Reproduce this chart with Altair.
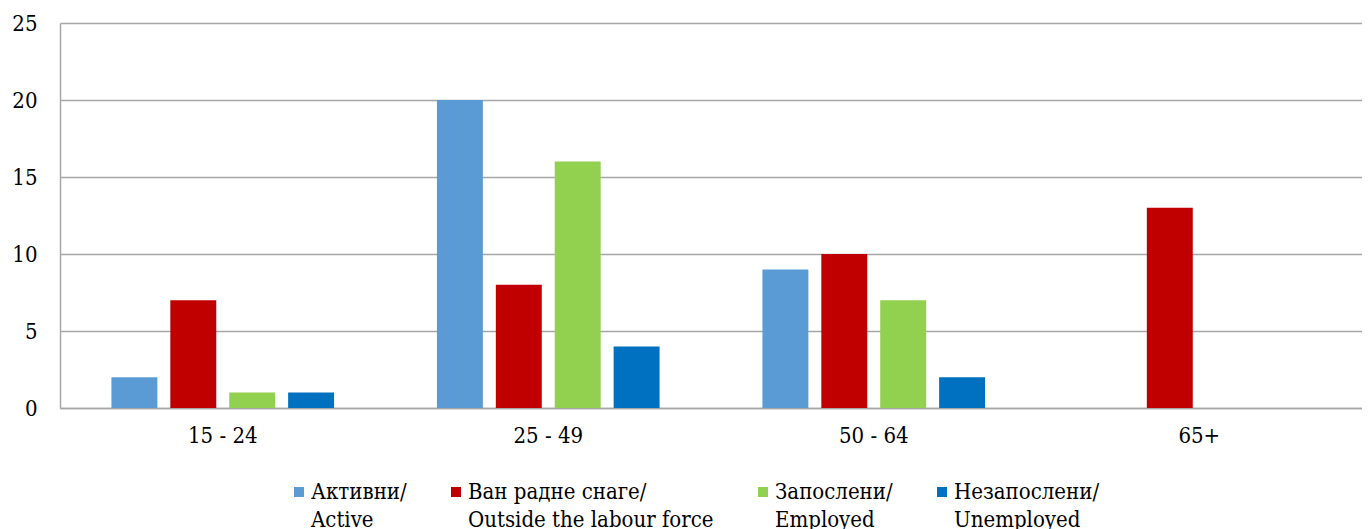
import altair as alt
import pandas as pd

ages = ["15 - 24", "25 - 49", "50 - 64", "65+"]
series = [
    "Активни/|Active",
    "Ван радне снаге/|Outside the labour force",
    "Запослени/|Employed",
    "Незапослени/|Unemployed",
]
colors = ["#5B9BD5", "#C00000", "#92D050", "#0070C0"]
active = [2, 20, 9, 0]
outside = [7, 8, 10, 13]
employed = [1, 16, 7, 0]
unemployed = [1, 4, 2, 0]
y_ticks = [0, 5, 10, 15, 20, 25]

rows = []
for s, vals in zip(series, [active, outside, employed, unemployed]):
    for a, v in zip(ages, vals):
        rows.append({"age": a, "series": s, "value": v})
df = pd.DataFrame(rows)

FONT = "DejaVu Serif Condensed, DejaVu Serif"
FS = 22
GRID = "#A6A6A6"

chart = alt.Chart(df).mark_bar().encode(
    x=alt.X("age:N", sort=ages,
            scale=alt.Scale(paddingInner=0, paddingOuter=0),
            axis=alt.Axis(title=None, labelAngle=0, ticks=False, domainColor=GRID,
                          domainWidth=1.5, labelPadding=17, labelFontSize=FS,
                          labelFont=FONT, labelColor="#000", grid=False)),
    xOffset=alt.XOffset("series:N", sort=series,
                        scale=alt.Scale(paddingInner=0.22, paddingOuter=0.873)),
    y=alt.Y("value:Q", scale=alt.Scale(domain=[0, 25], nice=False),
            axis=alt.Axis(values=y_ticks, title=None, ticks=False, domainColor=GRID,
                          domainWidth=1.5, gridColor=GRID, gridWidth=1.5,
                          labelPadding=23, labelFontSize=FS, labelFont=FONT,
                          labelColor="#000")),
    color=alt.Color("series:N", sort=series,
                    scale=alt.Scale(domain=series, range=colors),
                    legend=alt.Legend(title=None, orient="none", legendX=228, legendY=458,
                                      direction="horizontal", columns=4, columnPadding=38,
                                      symbolType="square", symbolSize=100,
                                      symbolStrokeWidth=0, labelOffset=1,
                                      labelFont=FONT, labelFontSize=FS, labelColor="#000",
                                      labelLimit=0, padding=0,
                                      labelExpr="split(datum.label, '|')")),
).properties(
    width=1302, height=385,
    autosize=alt.AutoSizeParams(type="none"),
    padding={"left": 52, "top": 15, "right": 0, "bottom": 121},
).configure(
    style={"guide-label": {"lineHeight": 28}}
).configure_view(strokeWidth=0)

chart.save("out.html", embed_options={"renderer": "svg", "actions": False})
